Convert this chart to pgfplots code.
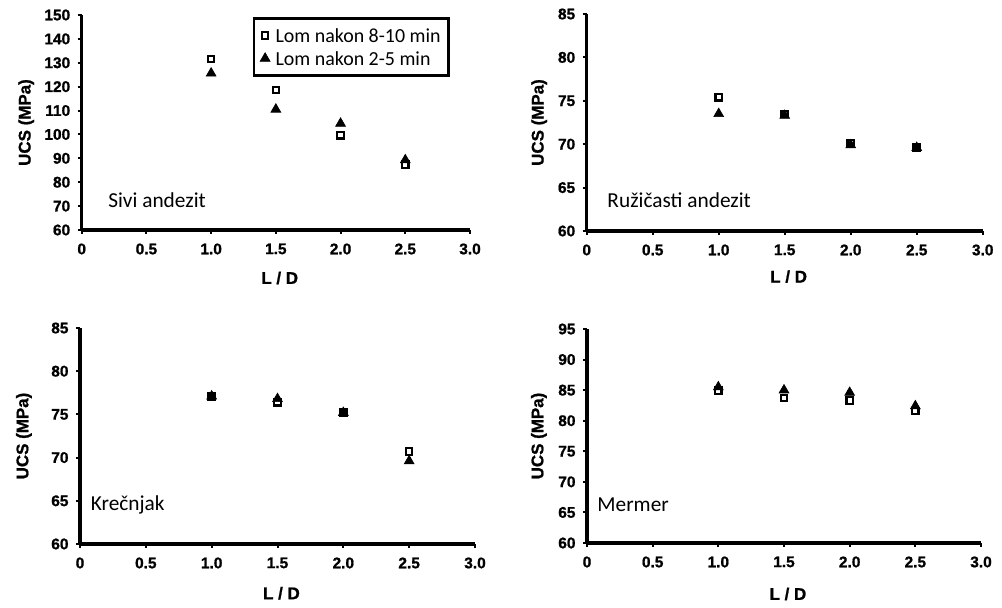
\documentclass[border=0pt]{standalone}
\usepackage{fontspec}
\setmainfont{Liberation Sans}
\newfontfamily\carlito{Carlito}
\newfontfamily\tickfont[FakeBold=1]{Liberation Sans}
\usepackage{pgfplots}
\pgfplotsset{compat=1.18}
\tikzset{anno/.style={font=\carlito\fontsize{21.4}{22}\selectfont, anchor=west, inner sep=0pt}}
\pgfplotsset{
 ucs/.style={
  scale only axis, axis lines=left, axis line style={-, line width=3.5bp, black},
  xmin=0, xmax=3, xtick={0,0.5,1,1.5,2,2.5,3},
  xticklabels={0,0.5,1.0,1.5,2.0,2.5,3.0},
  tick align=outside, major tick length=4bp,
  every tick/.style={line width=2bp, black},
  /pgf/number format/assume math mode=true,
  ticklabel style={font=\tickfont\bfseries\fontsize{15.5}{15.5}\selectfont},
  xticklabel style={yshift=-6bp},
  yticklabel style={xshift=-4bp},
  label style={font=\tickfont\bfseries\fontsize{17}{17}\selectfont},
  xlabel={L / D}, ylabel={UCS (MPa)},
  clip=false,
 },
 sq/.style={only marks, mark=square*, mark size=3.2bp, mark options={fill=white, draw=black, line width=2.2bp}},
 tri/.style={only marks, mark=triangle*, mark size=5.7bp, mark options={fill=black, draw=black, line width=0.6bp}},
}
\begin{document}
\begin{tikzpicture}
\useasboundingbox (0,0) rectangle (1002bp,608bp);
% top-left
\begin{axis}[ucs, at={(81.7bp,378bp)}, anchor=south west, width=388.3bp, height=215bp,
  ymin=60, ymax=150, ytick={60,70,...,150},
  xlabel style={at={(axis description cs:0.51,-0.223)}, anchor=center},
  ylabel style={at={(axis description cs:-0.143,0.5)}, anchor=center},
  legend style={at={(0.441,0.99)}, anchor=north west, draw=black, line width=2.5bp,
    font=\carlito\fontsize{20}{21}\selectfont, inner xsep=6bp, inner ysep=5.5bp,
    row sep=0bp, column sep=5.5bp,
    nodes={inner sep=0pt, text height=18.5bp, text depth=4.5bp}},
  legend cell align=left,
  legend image code/.code={\draw[mark repeat=2,mark phase=2,#1] plot coordinates {(0bp,0bp) (6bp,0bp) (12bp,0bp)};},
]
\addplot[sq] coordinates {(1,131.5) (1.5,118.6) (2,99.6) (2.5,87.3)};
\addlegendentry{Lom nakon 8-10 min\hspace*{2bp}}
\addplot[tri] coordinates {(1,125.6) (1.5,110.5) (2,104.6) (2.5,89.3)};
\addlegendentry{Lom nakon 2-5 min}
\node[anno] at (rel axis cs:0.068,0.14) {Sivi andezit};
\end{axis}
% top-right
\begin{axis}[ucs, at={(586.7bp,377bp)}, anchor=south west, width=396bp, height=217bp,
  ymin=60, ymax=85, ytick={60,65,...,85},
  xlabel style={at={(axis description cs:0.51,-0.21)}, anchor=center},
  ylabel style={at={(axis description cs:-0.12,0.5)}, anchor=center},
]
\addplot[sq] coordinates {(1,75.4) (1.5,73.5) (2,70.1) (2.5,69.6)};
\addplot[tri] coordinates {(1,73.5) (1.5,73.3) (2,69.9) (2.5,69.6)};
\node[anno] at (rel axis cs:0.052,0.143) {Ružičasti andezit};
\end{axis}
% bottom-left
\begin{axis}[ucs, at={(80bp,64bp)}, anchor=south west, width=395bp, height=216bp,
  ymin=60, ymax=85, ytick={60,65,...,85},
  xlabel style={at={(axis description cs:0.51,-0.228)}, anchor=center},
  ylabel style={at={(axis description cs:-0.142,0.5)}, anchor=center},
]
\addplot[sq] coordinates {(1,77.1) (1.5,76.4) (2,75.2) (2.5,70.7)};
\addplot[tri] coordinates {(1,77.1) (1.5,76.8) (2,75.2) (2.5,69.6)};
\node[anno] at (rel axis cs:0.027,0.18) {Krečnjak};
\end{axis}
% bottom-right
\begin{axis}[ucs, at={(587bp,65bp)}, anchor=south west, width=394bp, height=214bp,
  ymin=60, ymax=95, ytick={60,65,...,95},
  xlabel style={at={(axis description cs:0.51,-0.238)}, anchor=center},
  ylabel style={at={(axis description cs:-0.122,0.5)}, anchor=center},
]
\addplot[sq] coordinates {(1,84.9) (1.5,83.7) (2,83.3) (2.5,81.6)};
\addplot[tri] coordinates {(1,85.5) (1.5,85.0) (2,84.6) (2.5,82.4)};
\node[anno] at (rel axis cs:0.026,0.178) {Mermer};
\end{axis}
\end{tikzpicture}
\end{document}
